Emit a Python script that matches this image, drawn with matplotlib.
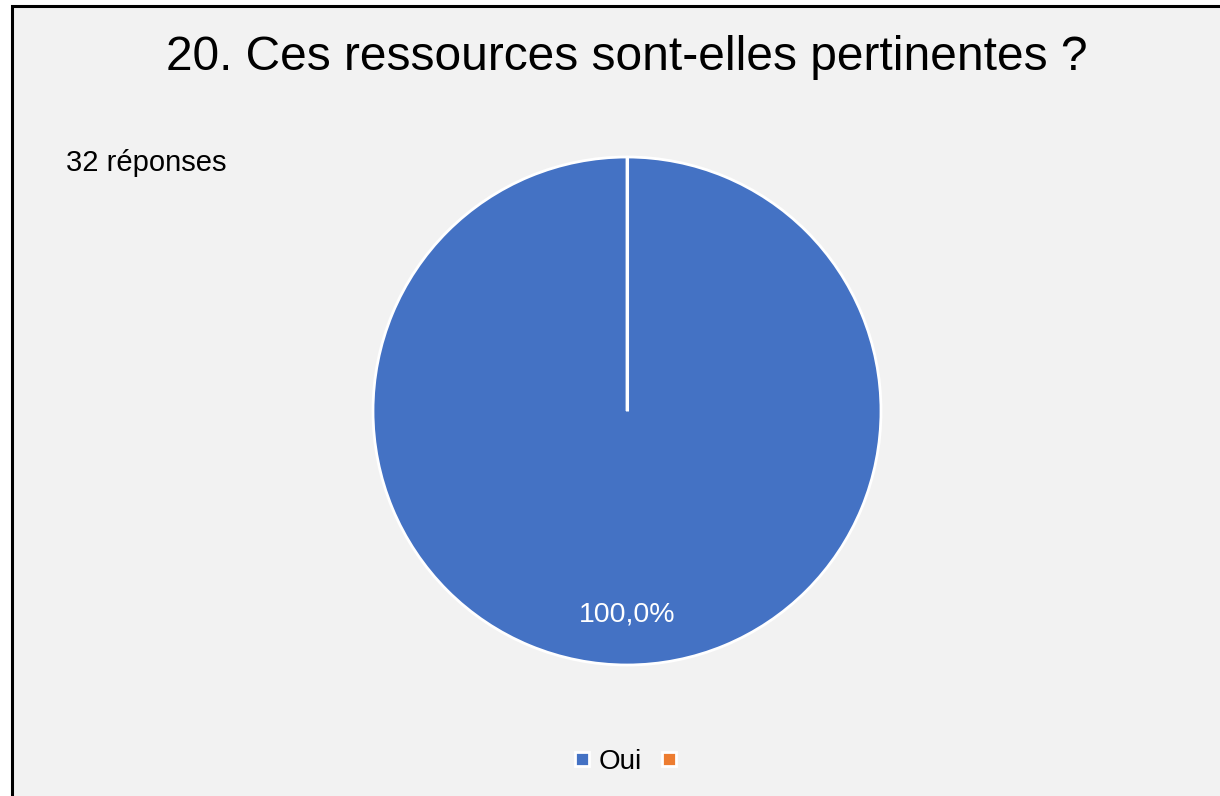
import matplotlib
matplotlib.use('Agg')
import matplotlib.pyplot as plt
from matplotlib.lines import Line2D
from matplotlib.patches import Rectangle
import numpy as np

plt.rcParams['font.family'] = ['Liberation Sans', 'DejaVu Sans']

# survey answers
title = "20. Ces ressources sont-elles pertinentes ?"
categories = ["Oui", ""]
counts = [32, 0]
n_answers = 32

colors = ["#4472C4", "#ED7D31"]
bg = "#F2F2F2"

fig = plt.figure(figsize=(12.2, 7.96), dpi=100)
fig.patch.set_facecolor("white")

# grey panel with black frame on top/left (runs off the right and bottom)
W, H = 1220, 796
fig.patches.append(Rectangle((12 / W, -0.05), 1.1, 1 - 6 / H + 0.05,
                             transform=fig.transFigure, facecolor=bg,
                             edgecolor="black", linewidth=2.2, zorder=-1))

fig.text(627 / W, 1 - 58 / H, title, ha="center", va="center", fontsize=34.5)
fig.text(66 / W, 1 - 163 / H, f"{n_answers} réponses", ha="left", va="center",
         fontsize=21)

# pie
cx, cy, r = 627, 796 - 411, 254
ax = fig.add_axes([(cx - r) / W, (cy - r) / H, 2 * r / W, 2 * r / H])
ax.set_facecolor("none")

def pct(p):
    return f"{p:.1f}%".replace(".", ",") if p > 0 else ""

wedges, texts, autotexts = ax.pie(counts, colors=colors, startangle=90,
                                  counterclock=False, autopct=pct,
                                  pctdistance=0.8,
                                  wedgeprops=dict(edgecolor="white", linewidth=2),
                                  textprops=dict(color="white", fontsize=20.5))

# radial edge of a full slice (matplotlib skips it for a 360 degree wedge)
w = wedges[0]
ang = np.deg2rad(w.theta2)
ax.plot([w.center[0], w.center[0] + w.r * np.cos(ang)],
        [w.center[1], w.center[1] + w.r * np.sin(ang)],
        color="white", linewidth=2.2, solid_capstyle="butt", zorder=5)
ax.set_xlim(-1, 1)
ax.set_ylim(-1, 1)
ax.set_aspect("equal")
ax.axis("off")

handles = [Line2D([], [], marker="s", linestyle="none", markersize=10,
                  markerfacecolor=c, markeredgecolor="white",
                  markeredgewidth=2) for c in colors]
fig.legend(handles, categories, loc="center", bbox_to_anchor=(629 / W, 1 - 762 / H),
           ncol=2, frameon=False, fontsize=20, handlelength=0.7,
           handletextpad=0.25, columnspacing=0.6)

fig.savefig("out.png", dpi=100, facecolor=fig.get_facecolor())
